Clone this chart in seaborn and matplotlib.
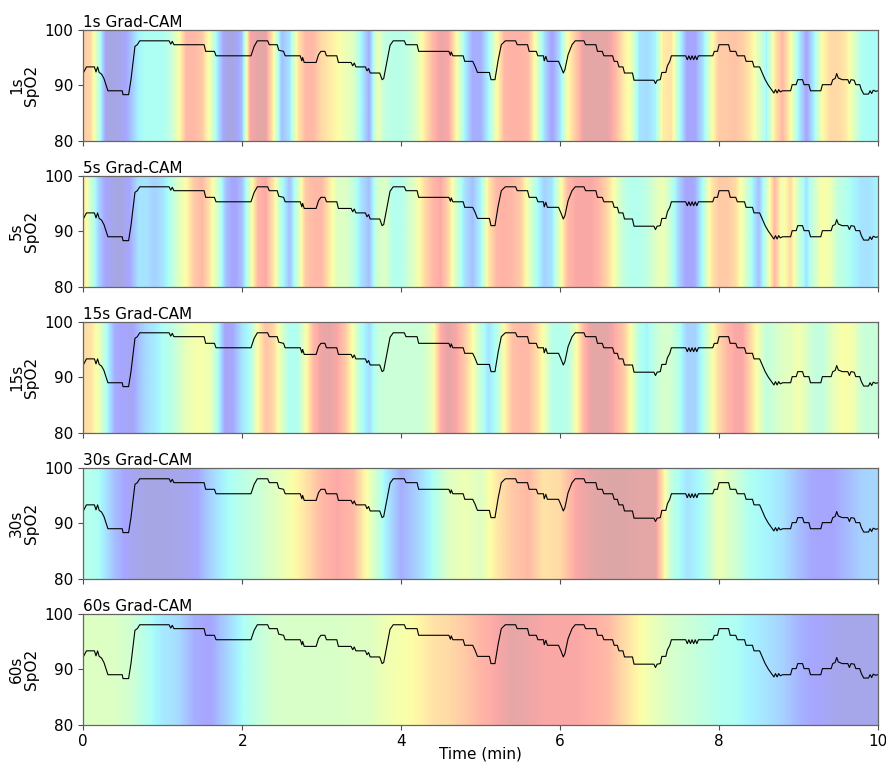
import numpy as np
import pandas as pd
import matplotlib
matplotlib.use('Agg')
import matplotlib.pyplot as plt
import seaborn as sns

# SpO2 trace (time in min, SpO2 value)
spo2_t = [0.00, 0.04, 0.14, 0.16, 0.18, 0.20, 0.23, 0.26, 0.31, 0.49, 0.50, 0.57, 0.60, 0.65, 0.68, 0.71,
          1.08, 1.10, 1.12, 1.14, 1.52, 1.54, 1.65, 1.67, 2.11, 2.15, 2.19, 2.32, 2.34, 2.44, 2.46, 2.52,
          2.54, 2.73, 2.75, 2.76, 2.78, 2.93, 2.96, 2.99, 3.04, 3.06, 3.19, 3.21, 3.37, 3.39, 3.41, 3.43,
          3.55, 3.57, 3.59, 3.61, 3.73, 3.76, 3.78, 3.83, 3.86, 3.90, 4.04, 4.06, 4.20, 4.22, 4.60, 4.62,
          4.63, 4.65, 4.78, 4.80, 4.90, 4.93, 4.96, 5.11, 5.13, 5.18, 5.22, 5.26, 5.31, 5.44, 5.46, 5.59,
          5.61, 5.70, 5.72, 5.79, 5.80, 5.82, 5.84, 5.98, 6.01, 6.04, 6.06, 6.10, 6.15, 6.19, 6.30, 6.32,
          6.45, 6.47, 6.53, 6.55, 6.66, 6.68, 6.72, 6.74, 6.79, 6.81, 6.91, 6.93, 7.18, 7.20, 7.22, 7.26,
          7.28, 7.33, 7.35, 7.38, 7.40, 7.58, 7.60, 7.62, 7.64, 7.66, 7.68, 7.70, 7.72, 7.74, 7.92, 7.94,
          7.98, 8.00, 8.12, 8.14, 8.21, 8.23, 8.32, 8.34, 8.42, 8.44, 8.51, 8.54, 8.58, 8.62, 8.67, 8.69,
          8.71, 8.73, 8.75, 8.77, 8.80, 8.90, 8.92, 8.97, 8.99, 9.05, 9.07, 9.13, 9.15, 9.28, 9.30, 9.41,
          9.43, 9.46, 9.48, 9.50, 9.55, 9.62, 9.64, 9.66, 9.70, 9.72, 9.77, 9.79, 9.82, 9.88, 9.90, 9.92,
          9.94, 9.97, 10.00]
spo2_v = [92.2, 93.3, 93.3, 92.4, 93.3, 92.3, 92.0, 91.2, 89.0, 89.0, 88.3, 88.3, 91.0, 97.0, 97.3, 98.0,
          98.0, 97.4, 97.9, 97.3, 97.3, 96.1, 96.1, 95.3, 95.3, 97.0, 98.0, 98.0, 97.3, 97.3, 96.3, 96.1,
          95.3, 95.3, 94.4, 95.0, 94.1, 94.1, 95.5, 96.1, 96.1, 95.3, 95.3, 94.1, 94.1, 93.5, 94.0, 93.3,
          93.3, 92.6, 93.0, 92.2, 92.2, 91.0, 91.2, 95.0, 97.2, 98.0, 98.0, 97.3, 97.3, 96.1, 96.1, 95.4,
          96.0, 95.3, 95.3, 94.3, 94.3, 93.4, 92.3, 92.3, 91.0, 91.0, 94.5, 97.3, 98.0, 98.0, 97.3, 97.3,
          96.1, 96.1, 95.3, 95.3, 94.4, 95.2, 94.3, 94.3, 93.3, 92.2, 92.8, 95.5, 97.3, 98.0, 98.0, 97.3,
          97.3, 96.1, 96.1, 95.3, 95.3, 94.3, 94.3, 93.3, 93.3, 92.2, 92.2, 90.9, 90.9, 90.3, 90.9, 91.0,
          92.3, 92.3, 93.5, 94.3, 95.3, 95.3, 94.6, 95.3, 94.6, 95.3, 94.6, 95.3, 94.6, 95.3, 95.3, 96.1,
          96.1, 97.3, 97.3, 96.1, 96.1, 95.3, 95.3, 94.3, 94.3, 93.3, 93.3, 92.3, 91.0, 90.0, 89.0, 88.6,
          89.2, 88.6, 89.2, 88.8, 89.0, 89.0, 90.1, 90.1, 91.0, 91.0, 90.1, 90.1, 89.0, 89.0, 90.1, 90.1,
          91.0, 91.2, 92.1, 91.3, 91.0, 91.0, 90.3, 91.0, 90.9, 90.1, 90.1, 89.2, 88.4, 88.4, 89.0, 88.5,
          89.1, 88.9, 89.0]

# Grad-CAM importance, sampled every 0.1 min (1s, 5s, 15s) or 0.2 min (30s, 60s)
cam_1s = [0.80, 0.75, 0.45, 0.05, 0.05, 0.08, 0.20, 0.35, 0.38, 0.38, 0.38,
          0.45, 0.62, 0.85, 0.85, 0.80, 0.60, 0.30, 0.05, 0.05, 0.20,
          0.90, 0.95, 0.95, 0.65, 0.20, 0.30, 0.70, 0.85, 0.85, 0.75,
          0.70, 0.65, 0.60, 0.55, 0.35, 0.15, 0.60, 0.45, 0.42, 0.42,
          0.45, 0.55, 0.70, 0.85, 0.93, 0.90, 0.65, 0.35, 0.15, 0.15,
          0.35, 0.62, 0.85, 0.87, 0.87, 0.85, 0.60, 0.30, 0.10, 0.30,
          0.65, 0.80, 0.95, 0.95, 0.95, 0.95, 0.85, 0.70, 0.60, 0.30,
          0.28, 0.35, 0.70, 0.72, 0.40, 0.12, 0.12, 0.30, 0.60, 0.80,
          0.80, 0.82, 0.78, 0.70, 0.55, 0.35, 0.70, 0.85, 0.65, 0.35,
          0.12, 0.35, 0.65, 0.75, 0.75, 0.70, 0.55, 0.38, 0.37, 0.37]
cam_5s = [0.75, 0.50, 0.25, 0.10, 0.05, 0.05, 0.15, 0.30, 0.30, 0.25, 0.30,
          0.40, 0.55, 0.65, 0.80, 0.85, 0.70, 0.50, 0.20, 0.10, 0.20,
          0.55, 0.85, 0.90, 0.70, 0.40, 0.20, 0.50, 0.80, 0.85, 0.85,
          0.70, 0.55, 0.55, 0.45, 0.30, 0.20, 0.50, 0.55, 0.40, 0.40,
          0.50, 0.60, 0.75, 0.85, 0.90, 0.75, 0.50, 0.30, 0.20, 0.35,
          0.70, 0.85, 0.87, 0.85, 0.80, 0.60, 0.40, 0.25, 0.30, 0.60,
          0.85, 0.90, 0.90, 0.90, 0.85, 0.75, 0.60, 0.45, 0.40, 0.40,
          0.45, 0.55, 0.60, 0.45, 0.25, 0.10, 0.15, 0.40, 0.70, 0.80,
          0.80, 0.75, 0.60, 0.40, 0.20, 0.50, 0.85, 0.60, 0.75, 0.50,
          0.30, 0.50, 0.65, 0.60, 0.45, 0.40, 0.35, 0.30, 0.30, 0.35]
cam_15s = [0.75, 0.72, 0.60, 0.38, 0.15, 0.12, 0.08, 0.20, 0.28, 0.32, 0.38,
           0.42, 0.50, 0.58, 0.62, 0.63, 0.60, 0.38, 0.08, 0.15, 0.30,
           0.38, 0.65, 0.82, 0.75, 0.55, 0.38, 0.40, 0.62, 0.85, 0.93,
           0.95, 0.90, 0.80, 0.62, 0.40, 0.28, 0.45, 0.48, 0.48, 0.48,
           0.48, 0.48, 0.50, 0.60, 0.88, 0.95, 0.90, 0.80, 0.65, 0.45,
           0.30, 0.40, 0.65, 0.82, 0.85, 0.85, 0.75, 0.62, 0.42, 0.40,
           0.42, 0.62, 0.85, 0.95, 0.95, 0.95, 0.88, 0.80, 0.62, 0.40,
           0.35, 0.45, 0.52, 0.50, 0.40, 0.25, 0.25, 0.40, 0.60, 0.75,
           0.85, 0.90, 0.90, 0.75, 0.60, 0.45, 0.50, 0.55, 0.57, 0.62,
           0.55, 0.45, 0.45, 0.55, 0.62, 0.65, 0.60, 0.48, 0.47, 0.47]
cam_30s = [0.42, 0.38, 0.20, 0.08, 0.05, 0.05, 0.06, 0.10, 0.25, 0.36, 0.42,
           0.48, 0.55, 0.62, 0.72, 0.85, 0.90, 0.85, 0.60, 0.35, 0.15,
           0.25, 0.38, 0.55, 0.60, 0.55, 0.70, 0.80, 0.85, 0.72, 0.75,
           0.90, 0.95, 0.97, 0.97, 0.95, 0.95, 0.45, 0.30, 0.38, 0.60,
           0.50, 0.38, 0.35, 0.30, 0.20, 0.12, 0.12, 0.18, 0.25, 0.27]
cam_60s = [0.55, 0.55, 0.54, 0.50, 0.40, 0.32, 0.28, 0.15, 0.12, 0.25, 0.37,
           0.45, 0.52, 0.53, 0.53, 0.53, 0.53, 0.54, 0.55, 0.60, 0.63,
           0.66, 0.72, 0.75, 0.80, 0.86, 0.90, 0.95, 0.93, 0.90, 0.90,
           0.90, 0.88, 0.85, 0.75, 0.65, 0.58, 0.52, 0.48, 0.44, 0.40,
           0.38, 0.34, 0.30, 0.25, 0.17, 0.12, 0.08, 0.06, 0.06, 0.06]

panel_names = ['1s', '5s', '15s', '30s', '60s']
cams = [cam_1s, cam_5s, cam_15s, cam_30s, cam_60s]

sns.set_style('ticks', {'axes.edgecolor': '0.4', 'xtick.color': '0.3', 'ytick.color': '0.3',
                        'text.color': 'black', 'axes.labelcolor': 'black'})
plt.rcParams['font.family'] = ['DejaVu Sans']

df = pd.DataFrame({'Time': spo2_t, 'SpO2': spo2_v})

fig, axes = plt.subplots(5, 1, figsize=(8.86, 7.62), dpi=100, sharex=True)
fig.subplots_adjust(left=0.094, right=0.991, top=0.961, bottom=0.049, hspace=0.315)

for ax, name, cam in zip(axes, panel_names, cams):
    cam = np.array(cam)
    step = 10.0 / (len(cam) - 1)
    ax.imshow(cam[None, :], extent=[-step / 2, 10 + step / 2, 80, 100], aspect='auto',
              cmap='jet', vmin=0, vmax=1, alpha=0.35, interpolation='bilinear')
    sns.lineplot(data=df, x='Time', y='SpO2', ax=ax, color='black', linewidth=0.8,
                 estimator=None, sort=False)
    ax.set_xlim(0, 10)
    ax.set_ylim(80, 100)
    ax.set_yticks([80, 90, 100])
    ax.set_xticks([0, 2, 4, 6, 8, 10])
    ax.set_ylabel(name + '\nSpO2', fontsize=11, linespacing=1.0, labelpad=4)
    ax.set_xlabel('')
    ax.set_title(name + ' Grad-CAM', loc='left', fontsize=11, pad=2)
    ax.tick_params(labelsize=11, labelcolor='black', length=3.5)
    for s in ax.spines.values():
        s.set_linewidth(0.9)

axes[-1].set_xlabel('Time (min)', fontsize=11, labelpad=-2)

fig.savefig('out.png', dpi=100)
